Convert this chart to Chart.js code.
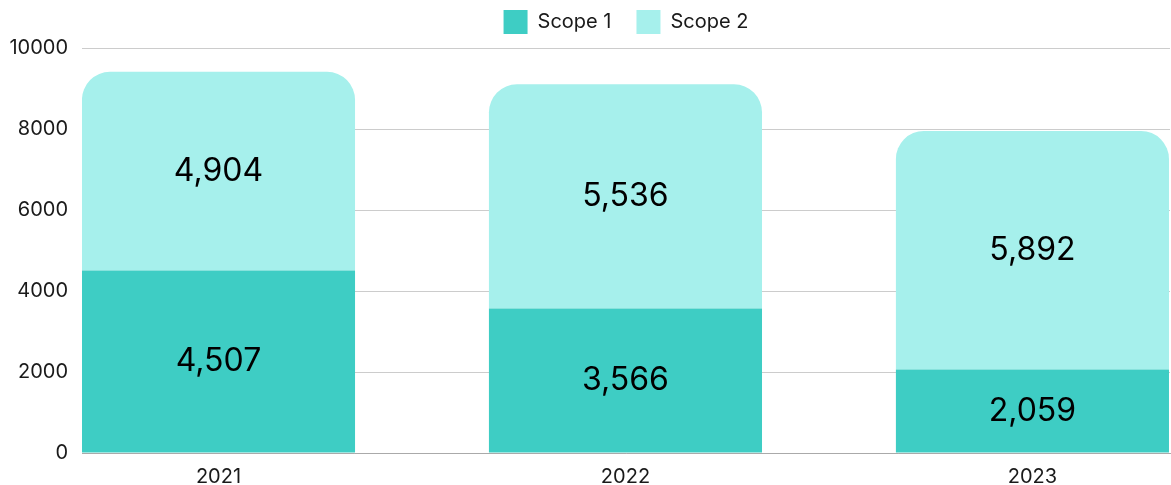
<!DOCTYPE html>
<html>
<head>
<meta charset="utf-8">
<script src="https://cdn.jsdelivr.net/npm/chart.js@4.4.1/dist/chart.umd.min.js"></script>
<style>
  html, body { margin: 0; padding: 0; background: #fff; }
  #wrap { width: 1171px; height: 485px; }
</style>
</head>
<body>
<div id="wrap"><canvas id="barChart"></canvas></div>
<script>
// chart values
const years = ['2021', '2022', '2023'];
const scope1 = [4507, 3566, 2059];
const scope2 = [4904, 5536, 5892];
const yTicks = [0, 2000, 4000, 6000, 8000, 10000];

const teal = '#3ecdc4';
const lightTeal = '#a6f0ec';

// bars sit on a linear x scale so they can be spread like the original
function toPoints(values) {
  return values.map(function(v, i) { return { x: i, y: v }; });
}

// draws the number in the middle of each bar
const barLabels = {
  id: 'barLabels',
  afterDatasetsDraw(chart) {
    const ctx = chart.ctx;
    ctx.save();
    ctx.font = '32px Inter';
    ctx.fillStyle = '#000';
    ctx.textAlign = 'center';
    ctx.textBaseline = 'middle';
    chart.data.datasets.forEach(function(ds, di) {
      chart.getDatasetMeta(di).data.forEach(function(bar, i) {
        const mid = (bar.y + bar.base) / 2;
        ctx.fillText(ds.data[i].y.toLocaleString('en-US'), bar.x, mid);
      });
    });
    ctx.restore();
  }
};

// a little extra room under the legend
const legendGap = {
  id: 'legendGap',
  beforeInit(chart) {
    const fit = chart.legend.fit;
    chart.legend.fit = function() {
      fit.bind(chart.legend)();
      this.height += 4;
    };
  }
};

Chart.defaults.font.family = 'Inter';
Chart.defaults.color = '#1a1a1a';

const ctx = document.getElementById('barChart').getContext('2d');
const myChart = new Chart(ctx, {
  type: 'bar',
  data: {
    datasets: [{
      label: 'Scope 1',
      data: toPoints(scope1),
      backgroundColor: teal,
      borderWidth: 0
    }, {
      label: 'Scope 2',
      data: toPoints(scope2),
      backgroundColor: lightTeal,
      borderWidth: 0,
      borderRadius: { topLeft: 28, topRight: 28, bottomLeft: 0, bottomRight: 0 },
      borderSkipped: false
    }]
  },
  options: {
    responsive: true,
    maintainAspectRatio: false,
    animation: false,
    layout: { padding: { right: 1, top: -15 } },
    datasets: { bar: { barPercentage: 0.671, categoryPercentage: 1 } },
    scales: {
      x: {
        type: 'linear',
        stacked: true,
        offset: false,
        min: -0.3354,
        max: 2.338,
        afterFit: function(scale) { scale.height = 32; },
        grid: { display: false, offset: false },
        border: { display: true, color: '#aaaaaa', width: 1 },
        ticks: {
          stepSize: 1,
          includeBounds: false,
          font: { size: 20 },
          padding: 4,
          callback: function(v) { return years[v] || ''; }
        }
      },
      y: {
        stacked: true,
        min: 0,
        max: 10000,
        afterFit: function(scale) { scale.width = 82; },
        afterBuildTicks: function(scale) {
          scale.ticks = yTicks.map(function(v) { return { value: v }; });
        },
        grid: { color: '#cccccc', drawTicks: false },
        border: { display: false },
        ticks: {
          font: { size: 20 },
          padding: 14,
          callback: function(v) { return String(v); }
        }
      }
    },
    plugins: {
      legend: {
        position: 'top',
        fullSize: false,
        labels: {
          boxWidth: 24,
          boxHeight: 24,
          padding: 25,
          font: { size: 20 }
        }
      },
      tooltip: { enabled: false }
    }
  },
  plugins: [barLabels, legendGap]
});
</script>
</body>
</html>
